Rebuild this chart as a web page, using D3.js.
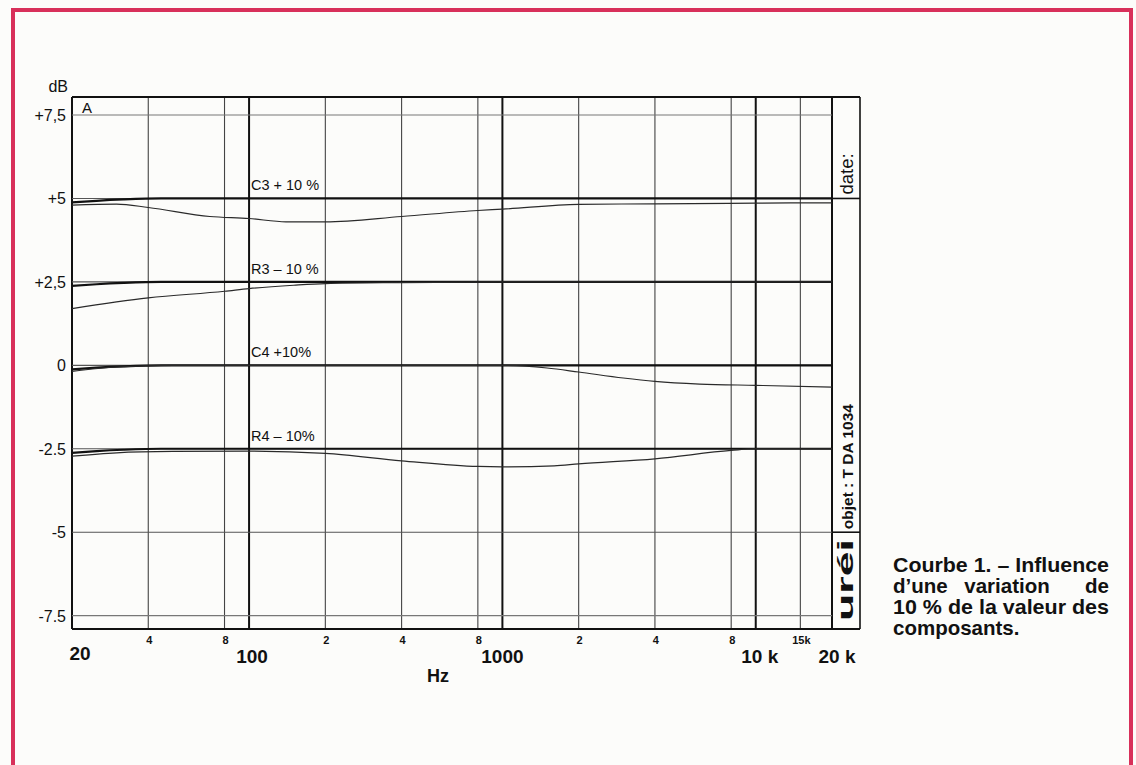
<!DOCTYPE html>
<html><head><meta charset="utf-8">
<script src="https://cdn.jsdelivr.net/npm/d3@7"></script>
<style>
html,body{margin:0;padding:0;background:#fcfcfa;}
svg{display:block;font-family:"Liberation Sans",Arial,Helvetica,sans-serif;}
</style></head>
<body>
<svg id="chart" width="1136" height="765"></svg>
<script>
// ---- data ----
const majorFreqLabels = [20, 100, 1000, 10000, 20000];
const majorFreqText = ["20", "100", "1000", "10 k", "20 k"];
const minorFreqTicks = [40, 80, 200, 400, 800, 2000, 4000, 8000, 15000];
const minorFreqText = ["4", "8", "2", "4", "8", "2", "4", "8", "15k"];
const dbTicks = [7.5, 5, 2.5, 0, -2.5, -5, -7.5];
const dbTickText = ["+7,5", "+5", "+2,5", "0", "-2.5", "-5", "-7.5"];
const heavyFreqs = [20, 100, 1000, 10000, 20000];
const nominalOffsets = [5, 2.5, 0, -2.5];
const nominalLow = [[20,-0.12],[25,-0.07],[32,-0.03],[45,0],[20000,0]];

const c3 = [[20,4.80],[30,4.83],[40,4.73],[70,4.46],[100,4.40],[140,4.30],[200,4.30],[400,4.46],[800,4.64],[1000,4.68],[2000,4.82],[4000,4.84],[10000,4.86],[20000,4.87]];
const r3 = [[20,1.70],[40,2.02],[80,2.22],[100,2.30],[150,2.40],[200,2.45],[400,2.48],[1000,2.50],[20000,2.50]];
const c4 = [[20,-0.18],[30,-0.05],[50,0],[1000,0],[1500,-0.08],[2000,-0.20],[3000,-0.38],[4000,-0.48],[6000,-0.56],[10000,-0.60],[20000,-0.65]];
const r4 = [[20,-2.72],[30,-2.62],[50,-2.58],[100,-2.57],[200,-2.64],[400,-2.86],[800,-3.03],[1000,-3.04],[1600,-3.01],[2000,-2.95],[4000,-2.80],[8000,-2.55],[10000,-2.50],[20000,-2.50]];
const curveLabels = ["C3 + 10 %", "R3 \u2013 10 %", "C4 +10%", "R4 \u2013 10%"];
const curveLabelDb = [5, 2.5, 0, -2.5];
const captionLines = ["Courbe 1. \u2013 Influence", "d\u2019une variation de", "10 % de la valeur des", "composants."];

// ---- drawing ----
const svg = d3.select("#chart");
const x = d3.scaleLog().domain([20, 20000]).range([72, 832]);
const y = d3.scaleLinear().domain([-7.9, 8.04]).range([629, 97]);
const plotTop = y.range()[1], plotBot = y.range()[0];
const boxRight = 860;

// red frame
svg.append("rect").attr("x", 13).attr("y", 10).attr("width", 1118).attr("height", 770)
  .attr("fill", "none").attr("stroke", "#d8305a").attr("stroke-width", 4);

const g = svg.append("g");

// vertical grid
const allF = [20,40,80,100,200,400,800,1000,2000,4000,8000,10000,15000,20000];
g.selectAll("line.vg").data(allF).join("line")
  .attr("x1", d => x(d)).attr("x2", d => x(d)).attr("y1", plotTop).attr("y2", plotBot)
  .attr("stroke", d => heavyFreqs.includes(d) ? "#111" : "#444")
  .attr("stroke-width", d => heavyFreqs.includes(d) ? 2 : 1.1);

// horizontal grid
g.selectAll("line.hg").data(dbTicks).join("line")
  .attr("x1", x(20)).attr("x2", x(20000)).attr("y1", d => y(d)).attr("y2", d => y(d))
  .attr("stroke", d => Math.abs(d) > 6 ? "#777" : "#555").attr("stroke-width", 1.1);

// nominal heavy lines
const line = d3.line().x(d => x(d[0])).y(d => y(d[1])).curve(d3.curveMonotoneX);
nominalOffsets.forEach(o => {
  g.append("path").datum(nominalLow.map(p => [p[0], p[1] + o]))
    .attr("d", line).attr("fill", "none").attr("stroke", "#111").attr("stroke-width", 2.2);
});

// border
g.append("line").attr("x1", x(20)).attr("x2", boxRight).attr("y1", plotTop).attr("y2", plotTop).attr("stroke", "#111").attr("stroke-width", 2);
g.append("line").attr("x1", x(20)).attr("x2", boxRight).attr("y1", plotBot).attr("y2", plotBot).attr("stroke", "#111").attr("stroke-width", 2);
g.append("line").attr("x1", boxRight).attr("x2", boxRight).attr("y1", plotTop).attr("y2", plotBot).attr("stroke", "#111").attr("stroke-width", 1.6);
// title block dividers
[5, -5].forEach(d => g.append("line").attr("x1", x(20000)).attr("x2", boxRight)
  .attr("y1", y(d)).attr("y2", y(d)).attr("stroke", "#111").attr("stroke-width", 1.6));

// curves
[c3, r3, c4, r4].forEach(s => {
  g.append("path").datum(s).attr("d", line).attr("fill", "none")
    .attr("stroke", "#2a2a2a").attr("stroke-width", 1.2);
});

// curve labels
g.selectAll("text.cl").data(curveLabels).join("text")
  .attr("x", 251).attr("y", (d, i) => y(curveLabelDb[i]) - 8)
  .attr("font-size", 14.5).attr("fill", "#111").text(d => d);

// A
g.append("text").attr("x", 82).attr("y", 113).attr("font-size", 15).attr("fill", "#111").text("A");

// y labels
g.selectAll("text.yl").data(dbTicks).join("text")
  .attr("x", 66).attr("y", d => y(d) + 6).attr("text-anchor", "end")
  .attr("font-size", 16).attr("fill", "#111").text((d, i) => dbTickText[i]);
g.append("text").attr("x", 68).attr("y", 92).attr("text-anchor", "end").attr("font-size", 16).attr("fill", "#111").text("dB");

// x labels
g.selectAll("text.xl").data(majorFreqLabels).join("text")
  .attr("x", (d, i) => x(d) + [8, 3, 0, 4, 5][i]).attr("y", (d,i) => i === 0 ? 660 : 663).attr("text-anchor", "middle")
  .attr("font-size", 19).attr("font-weight", "bold").attr("fill", "#111").text((d, i) => majorFreqText[i]);
g.selectAll("text.xm").data(minorFreqTicks).join("text")
  .attr("x", d => x(d) + 1).attr("y", 644).attr("text-anchor", "middle")
  .attr("font-size", 11).attr("font-weight", "bold").attr("fill", "#111").text((d, i) => minorFreqText[i]);
g.append("text").attr("x", 438).attr("y", 682).attr("text-anchor", "middle").attr("font-size", 18).attr("font-weight", "bold").attr("fill", "#111").text("Hz");

// title block texts (rotated)
const bx = (x(20000) + boxRight) / 2 + 7;
function vtext(txt, yy, size, weight, len) {
  const t = g.append("text").attr("transform", `translate(${bx},${yy}) rotate(-90)`)
    .attr("text-anchor", "start").attr("font-size", size).attr("font-weight", weight || "normal")
    .attr("fill", "#111").text(txt);
  if (len) t.attr("textLength", len).attr("lengthAdjust", "spacingAndGlyphs");
}
vtext("date:", y(5) - 4, 18.5);
vtext("objet : T DA  1034", y(-5) - 3, 15.5, "bold");
vtext("uréi", plotBot - 8, 22, "bold", 82);

// caption
const cx0 = 893, cx1 = 1109;
const cy = [572, 593, 614, 635];
const cap = svg.append("g").attr("font-size", 20.5).attr("font-weight", "bold").attr("fill", "#111");
cap.append("text").attr("x", cx0).attr("y", cy[0]).attr("textLength", cx1 - cx0).attr("lengthAdjust", "spacingAndGlyphs").text(captionLines[0]);
const w2 = captionLines[1].split(" ");
cap.append("text").attr("x", cx0).attr("y", cy[1]).text(w2[0]);
cap.append("text").attr("x", (cx0 + cx1) / 2 + 6).attr("y", cy[1]).attr("text-anchor", "middle").text(w2[1]);
cap.append("text").attr("x", cx1).attr("y", cy[1]).attr("text-anchor", "end").text(w2[2]);
cap.append("text").attr("x", cx0).attr("y", cy[2]).attr("textLength", cx1 - cx0).attr("lengthAdjust", "spacingAndGlyphs").text(captionLines[2]);
cap.append("text").attr("x", cx0).attr("y", cy[3]).text(captionLines[3]);
</script>
</body></html>
